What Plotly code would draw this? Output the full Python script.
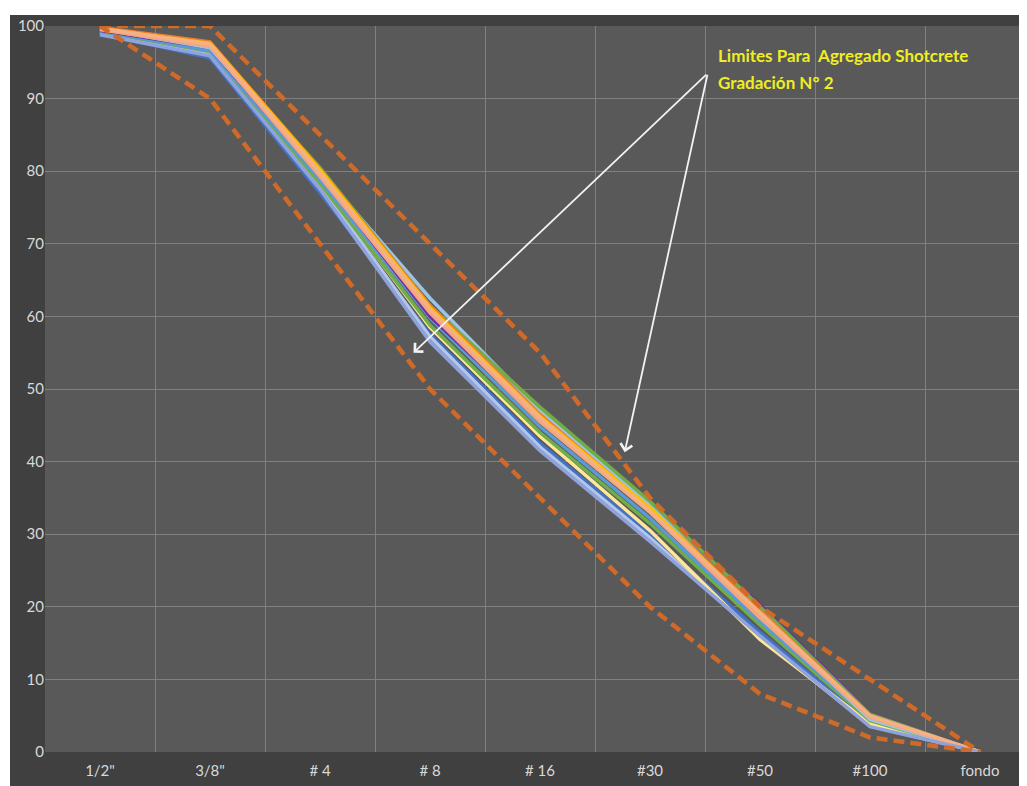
import plotly.graph_objects as go

categories = ['1/2"', '3/8"', '# 4', '# 8', '# 16', '#30', '#50', '#100', 'fondo']

upper_limit = [100, 100, 85, 70, 55, 35, 20, 10, 0]
lower_limit = [100, 90, 70, 50, 35, 20, 8, 2, 0]

series_values = {
    "M1": [99.0, 95.6, 77.0, 57.5, 42.5, 30.0, 16.5, 3.8, 0],
    "M2": [99.0, 96.2, 78.0, 57.2, 42.0, 29.5, 15.8, 3.6, 0],
    "M3": [99.3, 96.8, 78.6, 58.5, 43.5, 30.5, 15.5, 3.9, 0],
    "M4": [99.2, 96.5, 78.3, 58.8, 44.0, 31.5, 17.5, 4.3, 0],
    "M5": [99.3, 96.6, 78.8, 59.8, 44.8, 32.2, 18.0, 4.6, 0],
    "M6": [99.4, 97.0, 79.5, 60.0, 45.8, 33.8, 20.3, 5.3, 0],
    "M7": [99.6, 97.0, 80.0, 62.5, 47.0, 34.0, 19.0, 4.5, 0],
    "M8": [99.5, 97.3, 80.5, 61.5, 47.5, 34.5, 20.0, 5.2, 0],
    "M9": [99.8, 97.8, 80.3, 61.5, 46.5, 33.5, 19.5, 5.0, 0],
    "M10": [99.6, 97.6, 80.2, 61.2, 46.2, 33.6, 19.0, 4.9, 0],
    "M11": [99.5, 97.2, 79.3, 60.5, 45.5, 33.0, 18.5, 4.8, 0],
    "M12": [99.7, 97.5, 79.8, 61.0, 46.0, 33.2, 19.2, 5.0, 0],
    "M13": [98.8, 95.9, 77.5, 56.5, 41.5, 29.0, 16.0, 3.5, 0],
}
series_colors = {
    "M1": "#4472C4", "M2": "#B4C7E7", "M3": "#FFE699", "M4": "#70AD47",
    "M5": "#5B9BD5", "M6": "#7030A0", "M7": "#9DC3E6", "M8": "#70AD47",
    "M9": "#ED7D31", "M10": "#FFC000", "M11": "#F4A582", "M12": "#F4B183",
    "M13": "#8FA2DC",
}

annotation_lines = ["Limites Para  Agregado Shotcrete", "Gradación N° 2"]

FONT = "Lato, Liberation Sans Narrow, sans-serif"

fig = go.Figure()

for name, vals in series_values.items():
    fig.add_trace(go.Scatter(x=categories, y=vals, mode="lines", name=name,
                             line=dict(color=series_colors[name], width=3.5)))

for name, vals in [("Límite superior", upper_limit), ("Límite inferior", lower_limit)]:
    fig.add_trace(go.Scatter(x=categories, y=vals, mode="lines", name=name,
                             line=dict(color="#D06A28", width=4.5, dash="11px,6px")))

# page body has an 8px margin; figure sits at (8, 8) in the window
W, H = 1019, 778
ml, mr, mt, mb = 37, 0, 18, 34
pw, ph = W - ml - mr, H - mt - mb

def px_x(p):
    return (p - ml) / pw

def px_y(p):
    return (H - mb - p) / ph

shapes = [
    dict(type="rect", xref="paper", yref="paper", x0=px_x(-5), x1=px_x(W + 5),
         y0=px_y(7), y1=px_y(-5), fillcolor="white", line=dict(width=0), layer="above"),
    dict(type="rect", xref="paper", yref="paper", x0=px_x(-5), x1=px_x(2),
         y0=px_y(H + 5), y1=px_y(-5), fillcolor="white", line=dict(width=0), layer="above"),
]

annotations = [
    dict(x=5.6, y=96.0, xref="x", yref="y", text="<b>" + annotation_lines[0] + "</b>",
         showarrow=False, xanchor="left", yanchor="middle",
         font=dict(family=FONT, size=17, color="#EEEE22")),
    dict(x=5.6, y=92.2, xref="x", yref="y", text="<b>" + annotation_lines[1] + "</b>",
         showarrow=False, xanchor="left", yanchor="middle",
         font=dict(family=FONT, size=17, color="#EEEE22")),
    dict(x=2.85, y=55.0, xref="x", yref="y", ax=5.525, ay=93.5, axref="x", ayref="y",
         text="", showarrow=True, arrowhead=4, arrowsize=1.3, arrowwidth=1.8,
         arrowcolor="#F2F2F2", standoff=0, startstandoff=0),
    dict(x=4.77, y=41.3, xref="x", yref="y", ax=5.525, ay=93.5, axref="x", ayref="y",
         text="", showarrow=True, arrowhead=4, arrowsize=1.3, arrowwidth=1.8,
         arrowcolor="#F2F2F2", standoff=0, startstandoff=0),
]

fig.update_layout(
    width=W, height=H,
    margin=dict(l=ml, r=mr, t=mt, b=mb, pad=0),
    paper_bgcolor="#404040",
    plot_bgcolor="#595959",
    showlegend=False,
    shapes=shapes,
    annotations=annotations,
    font=dict(family=FONT, color="#D9D9D9", size=15),
)
fig.update_xaxes(type="category", tickson="boundaries", range=[-0.5, -0.5 + pw / 110.0],
                 showgrid=True, gridcolor="#808080", gridwidth=1, zeroline=False,
                 showline=False, ticks="", ticklabelstandoff=8,
                 tickfont=dict(family=FONT, size=15, color="#D9D9D9"))
fig.update_yaxes(range=[0, 100], dtick=10, showgrid=True, gridcolor="#808080", gridwidth=1,
                 zeroline=False, showline=False, ticks="",
                 tickfont=dict(family=FONT, size=15, color="#D9D9D9"))

fig.write_html("out.html")
